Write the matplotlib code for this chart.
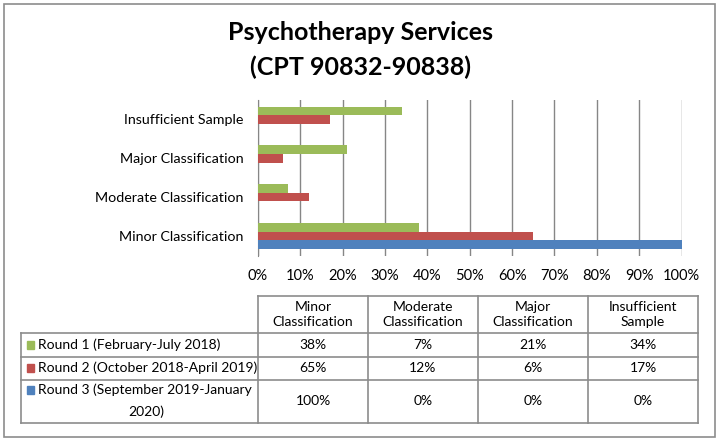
import matplotlib
matplotlib.use("Agg")
import matplotlib.pyplot as plt
from matplotlib.patches import Rectangle
from matplotlib.lines import Line2D
from matplotlib.ticker import PercentFormatter

# ---- data ----
categories = ["Minor Classification", "Moderate Classification",
              "Major Classification", "Insufficient Sample"]
header_labels = ["Minor\nClassification", "Moderate\nClassification",
                 "Major\nClassification", "Insufficient\nSample"]
series_names = ["Round 1 (February-July 2018)",
                "Round 2 (October 2018-April 2019)",
                "Round 3 (September 2019-January\n2020)"]
round1 = [38, 7, 21, 34]
round2 = [65, 12, 6, 17]
round3 = [100, 0, 0, 0]
series_values = [round1, round2, round3]
colors = ["#9BBB59", "#C0504D", "#4F81BD"]
xticks = list(range(0, 101, 10))

FONT = "Lato"
plt.rcParams["font.family"] = [FONT, "DejaVu Sans"]

W, H = 720, 443
fig = plt.figure(figsize=(W / 100, H / 100), dpi=100)


def fx(x):
    return x / W


def fy(y):
    return 1 - y / H


# outer border
fig.add_artist(Rectangle((fx(3.5), fy(436.5)), fx(715) - fx(3.5), fy(3.5) - fy(436.5),
                         transform=fig.transFigure, fill=False, edgecolor="#8c8c8c", lw=1.2))

# title
fig.text(fx(360), fy(32), "Psychotherapy Services", ha="center", va="center",
         fontsize=18, fontweight="bold")
fig.text(fx(360), fy(67), "(CPT 90832-90838)", ha="center", va="center",
         fontsize=18, fontweight="bold")

# plot area
x0, x1, y0, y1 = 258, 681.5, 100, 255.5
ax = fig.add_axes([fx(x0), fy(y1), fx(x1) - fx(x0), fy(y0) - fy(y1)])
n = len(categories)
bh = 0.22
offsets = [bh, 0, -bh]
for vals, off, c in zip(series_values, offsets, colors):
    ax.barh([i + off for i in range(n)], vals, height=bh, color=c, edgecolor="none", zorder=3)

fs = 10
ax.set_xlim(0, 100)
ax.set_ylim(-0.5, n - 0.5)
ax.set_xticks(xticks)
ax.xaxis.set_major_formatter(PercentFormatter(decimals=0))
ax.set_yticks(range(n))
ax.set_yticklabels(categories)
ax.grid(axis="x", color="#868686", lw=1, zorder=0)
ax.tick_params(axis="both", length=0, labelsize=fs + 0.5, colors="black")
ax.tick_params(axis="x", pad=10)
ax.tick_params(axis="y", pad=10.5, labelsize=fs + 0.3)
for s in ["top", "right"]:
    ax.spines[s].set_visible(False)
ax.spines["left"].set_color("#868686")
ax.spines["bottom"].set_visible(False)

# data table
col_x = [258, 368, 478, 588, 698]
row_y = [296, 333, 356.5, 379.5, 422.5]
left = 20.5
lc = "#8c8c8c"


def hline(y, xa, xb):
    fig.add_artist(Line2D([fx(xa), fx(xb)], [fy(y), fy(y)], transform=fig.transFigure,
                          color=lc, lw=1.2))


def vline(x, ya, yb):
    fig.add_artist(Line2D([fx(x), fx(x)], [fy(ya), fy(yb)], transform=fig.transFigure,
                          color=lc, lw=1.2))


hline(row_y[0], col_x[0], col_x[-1])
for y in row_y[1:]:
    hline(y, left, col_x[-1])
for x in col_x:
    vline(x, row_y[0], row_y[-1])
vline(left, row_y[1], row_y[-1])

for j, lab in enumerate(header_labels):
    fig.text(fx((col_x[j] + col_x[j + 1]) / 2), fy((row_y[0] + row_y[1]) / 2), lab,
             ha="center", va="center", fontsize=fs, linespacing=1.3)

for i, (name, vals, c) in enumerate(zip(series_names, series_values, colors)):
    yc = (row_y[i + 1] + row_y[i + 2]) / 2
    lines = name.split("\n")
    if len(lines) == 1:
        ky = yc
        fig.text(fx(37.5), fy(yc), name, ha="left", va="center", fontsize=fs)
    else:
        ky = yc - 11
        fig.text(fx(37.5), fy(ky), lines[0], ha="left", va="center", fontsize=fs)
        fig.text(fx(146), fy(yc + 11), lines[1], ha="center", va="center", fontsize=fs)
    fig.add_artist(Rectangle((fx(26.5), fy(ky + 3.8)), fx(7.5), 7.5 / H,
                             transform=fig.transFigure, color=c))
    for j, v in enumerate(vals):
        fig.text(fx((col_x[j] + col_x[j + 1]) / 2), fy(yc), f"{v}%",
                 ha="center", va="center", fontsize=fs)

fig.savefig("out.png", dpi=100)
